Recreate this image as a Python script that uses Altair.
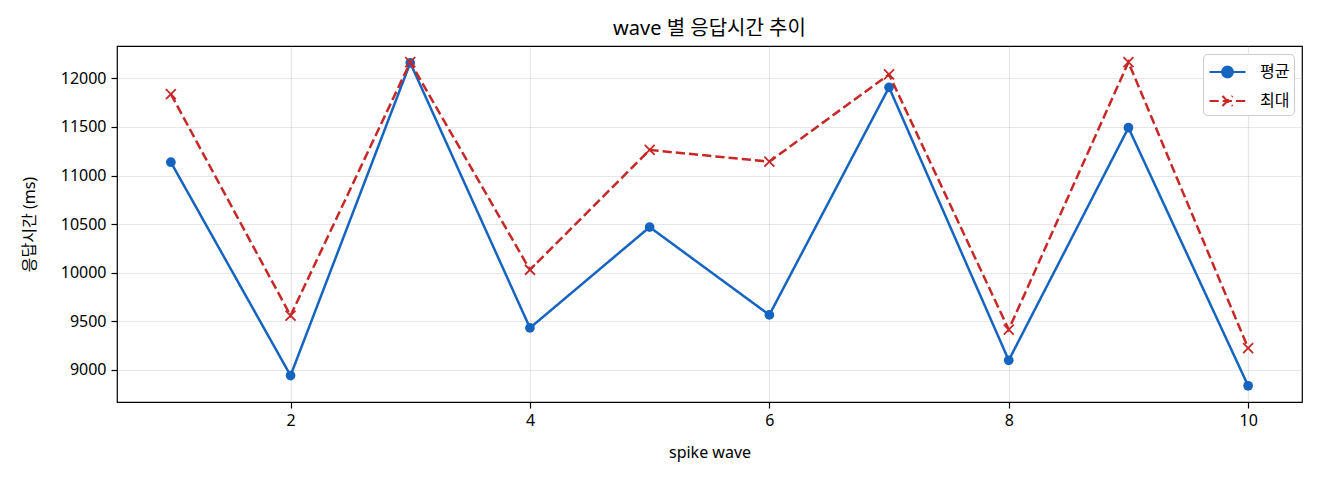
import math
import altair as alt
import pandas as pd

# wave 별 평균 / 최대 응답시간 (ms)
waves = [1, 2, 3, 4, 5, 6, 7, 8, 9, 10]
avg_ms = [11137, 8941, 12160, 9431, 10469, 9565, 11908, 9098, 11492, 8835]
max_ms = [11839, 9558, 12167, 10030, 11263, 11143, 12041, 9414, 12167, 9223]
series_names = ["평균", "최대"]
x_ticks = [2, 4, 6, 8, 10]
y_ticks = [9000, 9500, 10000, 10500, 11000, 11500, 12000]

BLUE = "#1565c0"
RED = "#c62828"
FONT = "Noto Sans, Noto Sans CJK KR"

df = pd.concat([
    pd.DataFrame({"wave": waves, "ms": avg_ms, "series": series_names[0]}),
    pd.DataFrame({"wave": waves, "ms": max_ms, "series": series_names[1]}),
])

# matplotlib style 5% margins
lo, hi = min(avg_ms + max_ms), max(avg_ms + max_ms)
pad_y = (hi - lo) * 0.05
pad_x = (max(waves) - min(waves)) * 0.05

# legend glyphs: line + marker, in symbol units
cx, r = 0.54, 0.44
circle = "M" + "L".join(
    f"{cx + r * math.cos(2 * math.pi * i / 24):.3f},{r * math.sin(2 * math.pi * i / 24):.3f}"
    for i in range(24)
) + "Z"
avg_glyph = "M-0.96,0L2.04,0" + circle
max_glyph = ("M-0.96,0L-0.19,0M0.14,0L0.915,0M1.25,0L2.04,0"
             "M0.12,-0.42L0.96,0.42M0.12,0.42L0.96,-0.42")

legend = alt.Legend(
    title=None, orient="top-right", offset=8,
    fillColor="white", strokeColor="#cccccc", cornerRadius=4, padding=4.5,
    rowPadding=5, symbolSize=576, symbolStrokeWidth=2.2, labelOffset=25.5,
    labelFont=FONT, labelFontSize=16, labelColor="black",
)

x = alt.X("wave:Q", scale=alt.Scale(domain=[min(waves) - pad_x, max(waves) + pad_x], nice=False, zero=False),
          axis=alt.Axis(values=x_ticks, title="spike wave", titleY=42, labelPadding=4))
y = alt.Y("ms:Q", scale=alt.Scale(domain=[lo - pad_y, hi + pad_y], nice=False, zero=False),
          axis=alt.Axis(values=y_ticks, format="d", title="응답시간 (ms)", titleX=-80, labelPadding=5))
color = alt.Color("series:N", scale=alt.Scale(domain=series_names, range=[BLUE, RED]), legend=legend)
dash = alt.StrokeDash("series:N", scale=alt.Scale(domain=series_names, range=[[1, 0], [9.25, 4]]), legend=None)
glyph = alt.Shape("series:N", scale=alt.Scale(domain=series_names, range=[avg_glyph, max_glyph]), legend=legend)
glyph_fill = alt.Fill("series:N", scale=alt.Scale(domain=series_names, range=[BLUE, "transparent"]), legend=legend)

base = alt.Chart(df)
avg_line = base.transform_filter(alt.datum.series == "평균").mark_line(strokeWidth=2.5).encode(x=x, y=y, color=color, strokeDash=dash)
avg_pts = base.transform_filter(alt.datum.series == "평균").mark_point(
    filled=True, shape="circle", size=95, color=BLUE, opacity=1).encode(x=x, y=y)
max_line = base.transform_filter(alt.datum.series == "최대").mark_line(strokeWidth=2.5).encode(x=x, y=y, color=color, strokeDash=dash)
max_pts = base.transform_filter(alt.datum.series == "최대").mark_point(
    filled=False, shape="M-1,-1L1,1M-1,1L1,-1", size=100, color=RED, strokeWidth=1.8, opacity=1).encode(x=x, y=y)
# empty layer that only carries the legend glyph scales
legend_layer = base.transform_filter("false").mark_point(opacity=1).encode(x=x, y=y, shape=glyph, fill=glyph_fill)

chart = alt.layer(avg_line, avg_pts, max_line, max_pts, legend_layer).properties(
    width=1185, height=356,
    autosize=alt.AutoSizeParams(type="none"),
    padding={"left": 109, "top": 38, "right": 10, "bottom": 70},
    title=alt.TitleParams("wave 별 응답시간 추이", font=FONT, fontSize=20, fontWeight="normal",
                          color="black", offset=7),
).configure_view(
    stroke="black", strokeWidth=1.2
).configure_axis(
    domain=False, grid=True, gridColor="#b0b0b0", gridOpacity=0.3, gridWidth=1.2,
    tickColor="black", tickSize=6, tickWidth=1.2,
    labelFont=FONT, labelFontSize=16, labelColor="black",
    titleFont=FONT, titleFontSize=16, titleFontWeight="normal", titleColor="black",
)

chart.save("out.html", embed_options={"renderer": "svg", "actions": False})
